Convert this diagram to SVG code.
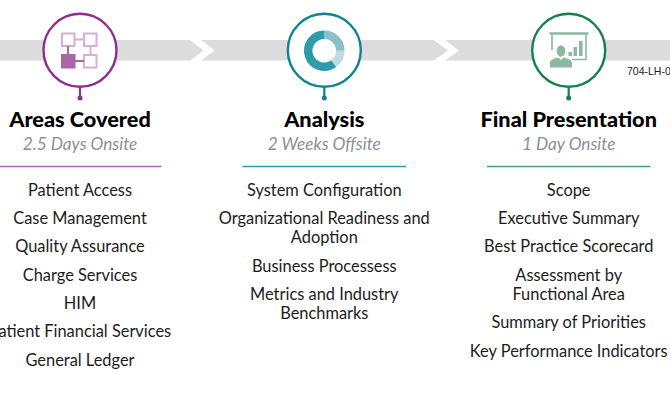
<svg xmlns="http://www.w3.org/2000/svg" width="670" height="404" viewBox="0 0 670 404">
<style>
text{font-family:"Lato","Noto Sans",sans-serif;text-anchor:middle}
.t{font-size:21.700px;font-weight:900;fill:#000}
.s{font-size:17.200px;font-style:italic;fill:#8c8f93}
.i{font-size:16.400px;fill:#1c1c1c}
.r{fill:#fff;stroke-width:2.400}
.band{fill:#dcdcdc}
</style>
<rect width="670" height="404" fill="#fff"/>
<g id="connectors">
<path class="band" d="M0 40H190L203.500 50.500L190 60.500H0Z"/>
<path class="band" d="M201 40H433.500L448 50.500L433.500 60.500H201L214.500 50.500Z"/>
<path class="band" d="M445 40H670V60.500H445L459 50.500Z"/>
</g>
<g id="areas">
<circle class="r" cx="80" cy="50.300" r="36.500" stroke="#8f2d91"/>
<path d="M80 87V98" stroke="#8f2d91" stroke-width="2.200"/><circle cx="80" cy="98" r="2.500" fill="#8f2d91"/>
<g fill="#fff" stroke="#d3b0d6" stroke-width="2">
<path d="M75 39.500H84M90.500 46V56M75 61H84" fill="none"/>
<rect x="62" y="33.500" width="12.500" height="12.500"/><rect x="84" y="33.500" width="12.500" height="12.500"/><rect x="84" y="55" width="12.500" height="12.500"/>
</g>
<path d="M68 46V55M75 61H84" stroke="#a965a8" stroke-width="2"/>
<rect x="61" y="54" width="14.500" height="14.500" fill="#a965a8"/>
<text class="t" x="80" y="127">Areas Covered</text>
<text class="s" x="80" y="150">2.5 Days Onsite</text>
<path d="M-1 166.500H161.500" stroke="#b65fbb" stroke-width="1.300"/>
<text class="i" x="80" y="195.500">Patient Access</text>
<text class="i" x="80" y="223.500">Case Management</text>
<text class="i" x="80" y="251.500">Quality Assurance</text>
<text class="i" x="80" y="280.500">Charge Services</text>
<text class="i" x="80" y="308.500">HIM</text>
<text class="i" x="80" y="336.500">Patient Financial Services</text>
<text class="i" x="80" y="365.500">General Ledger</text>
</g>
<g id="analysis">
<circle class="r" cx="324.300" cy="50.300" r="36.500" stroke="#0c8492"/>
<path d="M324.300 87V98" stroke="#0c8492" stroke-width="2.200"/><circle cx="324.300" cy="98" r="2.500" fill="#0c8492"/>
<g fill="none" stroke-width="8.500">
<path d="M324.300 34.700A16 16 0 0 1 340.300 50.700" stroke="#8bbfca"/>
<path d="M340.300 50.700A16 16 0 0 1 333.700 63.600" stroke="#bfdce2"/>
<path d="M333.700 63.600A16 16 0 1 1 324.300 34.700" stroke="#2e9aaa"/>
</g>
<text class="t" x="324.300" y="127">Analysis</text>
<text class="s" x="324.300" y="150">2 Weeks Offsite</text>
<path d="M242.500 166.500H406" stroke="#2a9dab" stroke-width="1.300"/>
<text class="i" x="324.300" y="195.500">System Configuration</text>
<text class="i" x="324.300" y="223.500">Organizational Readiness and</text>
<text class="i" x="324.300" y="243">Adoption</text>
<text class="i" x="324.300" y="271.500">Business Processess</text>
<text class="i" x="324.300" y="299.500">Metrics and Industry</text>
<text class="i" x="324.300" y="319">Benchmarks</text>
</g>
<g id="final">
<circle class="r" cx="568.700" cy="50.300" r="36.500" stroke="#14804a"/>
<path d="M568.700 87V98" stroke="#14804a" stroke-width="2.200"/><circle cx="568.700" cy="98" r="2.500" fill="#14804a"/>
<path d="M549.500 33.500H588.500" stroke="#8cb89f" stroke-width="2.600"/>
<path d="M552 34V50M586 34V59.500H572" fill="none" stroke="#8cb89f" stroke-width="1.600"/>
<g fill="#8cb89f">
<rect x="568.500" y="52" width="3.500" height="4"/><rect x="573.500" y="47" width="3.500" height="9"/><rect x="579" y="41" width="3.500" height="15"/>
<ellipse cx="561" cy="51" rx="4.300" ry="5.800"/>
<path d="M550 67.500V63C550 60 553 59 558.500 57.500L561 60L563.500 57.500C569 59 572 60 572 63V67.500Z"/>
</g>
<text class="t" x="568.700" y="127">Final Presentation</text>
<text class="s" x="568.700" y="150">1 Day Onsite</text>
<path d="M487 166.500H650.500" stroke="#3fa56c" stroke-width="1.300"/>
<text class="i" x="568.700" y="195.500">Scope</text>
<text class="i" x="568.700" y="223.500">Executive Summary</text>
<text class="i" x="568.700" y="251.500">Best Practice Scorecard</text>
<text class="i" x="568.700" y="280.500">Assessment by</text>
<text class="i" x="568.700" y="299.500">Functional Area</text>
<text class="i" x="568.700" y="327.500">Summary of Priorities</text>
<text class="i" x="568.700" y="356.500">Key Performance Indicators</text>
</g>
<text x="627" y="75" style="font-family:'Liberation Sans',sans-serif;font-size:10.500px;text-anchor:start" fill="#222">704-LH-0</text>
</svg>
